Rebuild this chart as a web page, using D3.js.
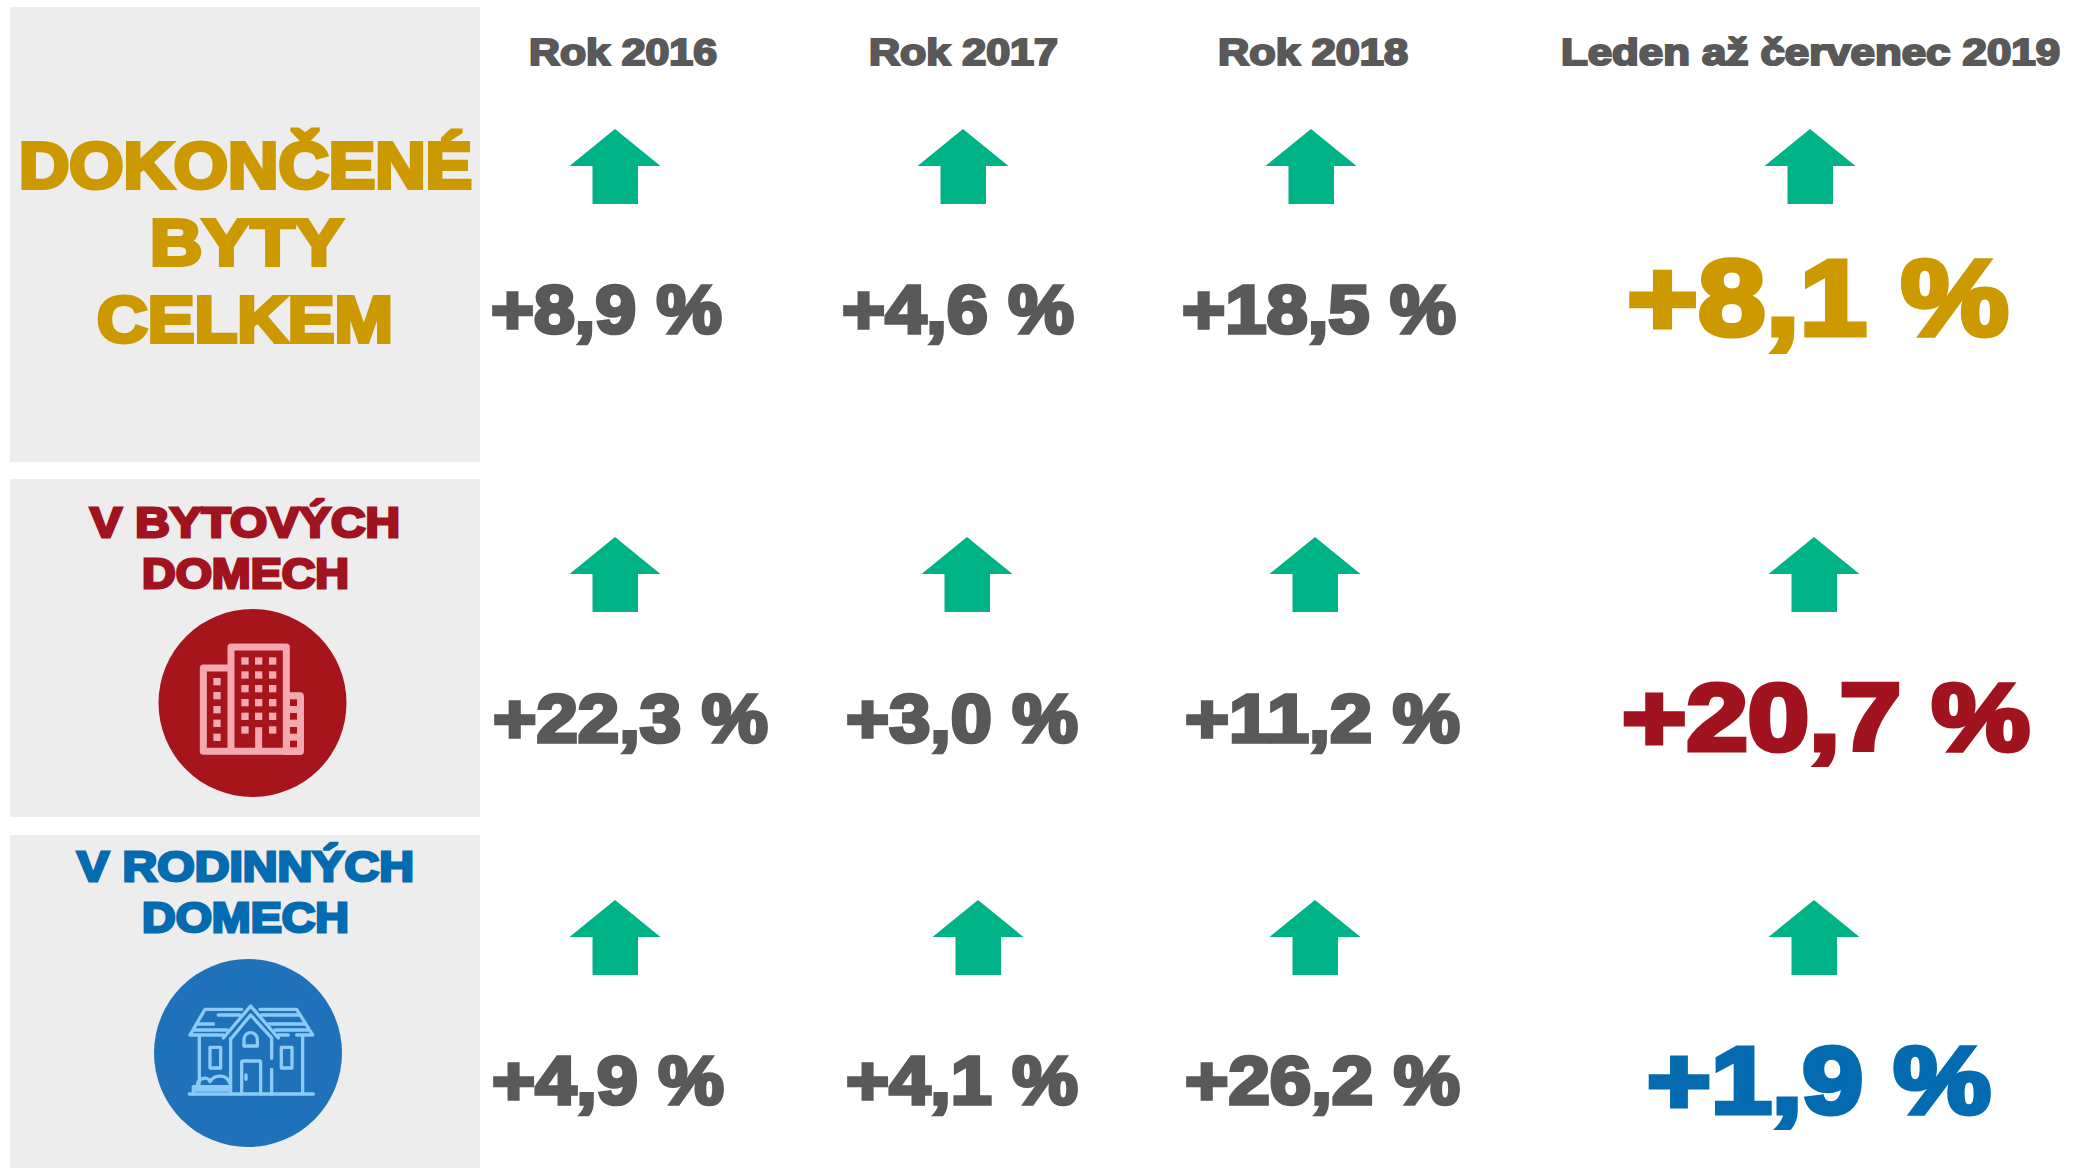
<!DOCTYPE html>
<html><head><meta charset="utf-8">
<style>html,body{margin:0;padding:0;background:#fff}svg{display:block}
text{font-family:"Liberation Sans",Arial,sans-serif;font-weight:700;paint-order:stroke;stroke-linejoin:miter;stroke-miterlimit:3}</style>
<script src="https://cdn.jsdelivr.net/npm/d3@7"></script>
</head><body><div id="c"></div>
<script>
// DATA
const periods = ["Rok 2016","Rok 2017","Rok 2018","Leden až červenec 2019"];
const rowNames = ["total","flats","houses"];
const totalValues = [8.9,4.6,18.5,8.1];
const flatValues = [22.3,3.0,11.2,20.7];
const houseValues = [4.9,4.1,26.2,1.9];
const rowLabels = [["DOKONČENÉ","BYTY","CELKEM"],["V BYTOVÝCH","DOMECH"],["V RODINNÝCH","DOMECH"]];
const seriesByRow = [totalValues,flatValues,houseValues];

// LAYOUT
const W=2080,H=1168;
const svg=d3.select("#c").append("svg").attr("width",W).attr("height",H);
const colors={gold:"#CC9900",red:"#A1131F",blue:"#046BB0",grey:"#595959",green:"#00B386",panel:"#EDEDED"};
const rowColor=d3.scaleOrdinal(rowNames,[colors.gold,colors.red,colors.blue]);
const panels=[[7,462],[479,817],[835,1168]];
const arrowTip=d3.scaleOrdinal(rowNames,[129,537,900]);
const valueBase=d3.scaleOrdinal(rowNames,[335,744,1106]);
const bigBase=d3.scaleOrdinal(rowNames,[337,752,1115]);
const bigSize=d3.scaleOrdinal(rowNames,[107,95,95]);
const arrowX=[[615,963,1311,1810],[615,967,1315,1814],[615,978,1315,1814]];
const valueBox=[
 [[491,231],[842,232],[1182,274],[1627,382]],
 [[493,275],[846,232],[1185,275],[1622,408]],
 [[492,232],[846,232],[1185,275],[1647,344]]];
const headerBox=[[529,188],[869,189],[1218,190],[1561,499]];
const labelLines=[
 [[19,453,190,64],[150,193,267,64],[97,296,344,64]],
 [[90,310,538,42],[142,207,589,42]],
 [[77,337,882,42],[142,207,933,42]]];

const fmt=d3.formatLocale({decimal:",",thousands:" ",grouping:[3],currency:["",""]}).format("+.1f");

function fitText(sel,s,x,w,base,size,fill,sw){
  sel.append("text").text(s).attr("x",x).attr("y",base-sw/2).attr("font-size",size)
   .attr("fill",fill).attr("stroke",fill).attr("stroke-width",sw)
   .attr("textLength",w).attr("lengthAdjust","spacingAndGlyphs");
}

// panels
svg.append("g").selectAll("rect").data(panels).join("rect")
 .attr("x",10).attr("width",470).attr("y",d=>d[0]).attr("height",d=>d[1]-d[0]).attr("fill",colors.panel);

// headers
const hg=svg.append("g");
periods.forEach((p,i)=>fitText(hg,p,headerBox[i][0],headerBox[i][1],66,37,colors.grey,2.2));

// row labels
const lg=svg.append("g");
rowLabels.forEach((lines,r)=>lines.forEach((t,k)=>{
  const b=labelLines[r][k];
  fitText(lg,t,b[0],b[1],b[2],b[3],rowColor(rowNames[r]),b[3]>50?4:2.8);
}));

// arrows and values
const arrow=d3.line();
seriesByRow.forEach((vals,r)=>{
  const name=rowNames[r];
  const g=svg.append("g");
  g.selectAll("path").data(vals).join("path")
   .attr("fill",colors.green)
   .attr("d",(v,i)=>{
     const c=arrowX[r][i],t=arrowTip(name);
     return arrow([[c,t],[c+45.5,t+37],[c+23,t+37],[c+23,t+75],[c-22.5,t+75],[c-22.5,t+37],[c-45.5,t+37]])+"Z";
   });
  vals.forEach((v,i)=>{
    const big=i===3, b=valueBox[r][i];
    fitText(g,fmt(v)+" %",b[0],b[1],big?bigBase(name):valueBase(name),big?bigSize(name):68,big?rowColor(name):colors.grey,big?5:3.6);
  });
});

// building icon
svg.append("circle").attr("cx",252.5).attr("cy",703).attr("r",94).attr("fill","#A6141C");
const bi=svg.append("g").attr("transform","translate(140,600) scale(0.3333)");
const pink="#F5A8AF",dark="#A6141C";
bi.append("path").attr("fill",pink).attr("d","M430,277H480Q492,277 492,290V452Q492,465 480,465H430Z");
bi.append("path").attr("fill","none").attr("stroke",pink).attr("stroke-width",21).attr("stroke-linejoin","round")
 .attr("d","M190,454V204H273V141H439V454ZM273,204V454M190,454H439M356,454V382");
d3.cross([315,356,398],[183,225,266,308,349,390]).filter(d=>!(d[0]===356&&d[1]===390)).forEach(d=>
 bi.append("rect").attr("x",d[0]-11).attr("y",d[1]-11).attr("width",22).attr("height",22).attr("fill",pink));
[245,287,329,370,412].forEach(y=>bi.append("rect").attr("x",220).attr("y",y-11).attr("width",22).attr("height",22).attr("fill",pink));
[308,349,391,432].forEach(y=>bi.append("rect").attr("x",450).attr("y",y-10).attr("width",21).attr("height",20).attr("fill",dark));

// house icon
svg.append("circle").attr("cx",248).attr("cy",1053).attr("r",94).attr("fill","#1F71BA");
const hi=svg.append("g").attr("transform","translate(140,950) scale(0.3333)")
 .attr("fill","none").attr("stroke","#8CCBF7").attr("stroke-width",10).attr("stroke-linecap","round").attr("stroke-linejoin","round");
[
 "M148,432H520",
 "M150,255L195,178H305M360,178H470L518,255H470M150,255H250M415,255H445",
 "M235,195H300M365,195H478M170,222H220M385,222H495M160,240H262M405,240H505",
 "M250,264L332,168L415,264M275,264L332,195L395,264",
 "M178,258V400M488,258V432M272,265V432M395,265V325M395,358V432",
 "M210,292H242V354H210ZM424,292H456V354H424Z",
 "M312,288V268A20,20 0 0 1 352,268V288Z",
 "M305,432V338Q305,333 310,333H358Q362,333 362,338V432M318,375V388",
 "M160,432V410H270M165,420H270M172,405C175,382 205,378 210,395C225,370 262,375 268,398"
].forEach(d=>hi.append("path").attr("d",d));
</script></body></html>
